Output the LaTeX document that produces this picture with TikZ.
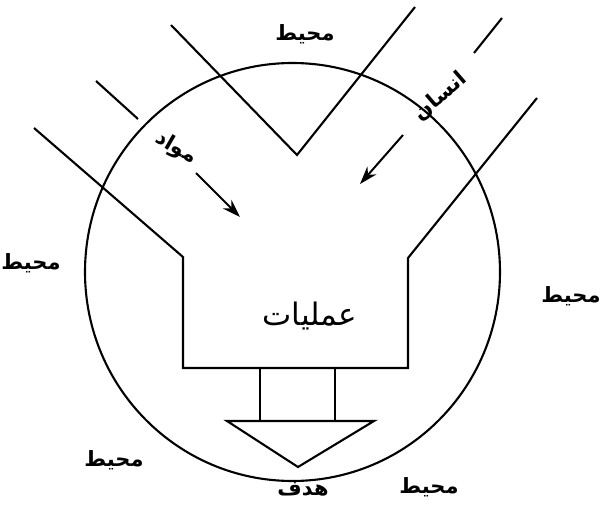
\documentclass[tikz,border=0pt]{standalone}
\usepackage{fontspec}
\usetikzlibrary{arrows.meta}
\TeXXeTstate=1
\newfontfamily\arabicfont[Script=Arabic]{DejaVu Sans}
\begin{document}
\begin{tikzpicture}[x=1pt,y=-1pt, line width=2.1pt, line join=miter,
  lab/.style={font=\arabicfont\bfseries\fontsize{21}{24}\selectfont, inner sep=0pt},
  biglab/.style={font=\arabicfont\fontsize{31}{34}\selectfont, inner sep=0pt},
  arr/.style={-{Stealth[length=18pt,width=12pt]}, line width=2pt}]
\useasboundingbox (0,0) rectangle (603,508);
% environment circle
\draw (292.5,272) ellipse [x radius=207.5, y radius=209];
% funnel inputs
\coordinate (a1) at (171,25);
\coordinate (v) at (297,155);
\coordinate (a2) at (415,7);
\coordinate (s1) at (96,81);
\coordinate (s2) at (138,119);
\coordinate (t1) at (474,53);
\coordinate (t2) at (502,18);
\coordinate (L1) at (34,128);
\coordinate (L2) at (183,257);
\coordinate (L3) at (183,368);
\coordinate (R3) at (408,368);
\coordinate (R2) at (408,258);
\coordinate (R1) at (537,98);
\draw (a1) -- (v) -- (a2);
\draw (s1) -- (s2);
\draw (t1) -- (t2);
\draw (L1) -- (L2) -- (L3) -- (R3) -- (R2) -- (R1);
% stem
\coordinate (st1) at (260,368);
\coordinate (st2) at (260,421);
\coordinate (st3) at (335,368);
\coordinate (st4) at (335,421);
\draw (st1) -- (st2);
\draw (st3) -- (st4);
% output triangle
\coordinate (tr1) at (227,421);
\coordinate (tr2) at (374,421);
\coordinate (tr3) at (298,467);
\draw (tr1) -- (tr2) -- (tr3) -- cycle;
% arrows
\coordinate (m1) at (196,173);
\coordinate (m2) at (240,217);
\coordinate (n1) at (403,135);
\coordinate (n2) at (360,184);
\draw[arr] (m1) -- (m2);
\draw[arr] (n1) -- (n2);
% labels
\node[lab] (envtop) at (305,34) {\beginR محیط\endR};
\node[lab] (envleft) at (31,263) {\beginR محیط\endR};
\node[lab] (envright) at (571,296) {\beginR محیط\endR};
\node[lab] (envbl) at (114,460) {\beginR محیط\endR};
\node[lab] (envbr) at (429,487) {\beginR محیط\endR};
\node[lab] (goal) at (303,489) {\beginR هدف\endR};
\node[lab, rotate=41] (human) at (440,96) {\beginR انسان\endR};
\node[lab, rotate=-30] (material) at (176,148) {\beginR مواد\endR};
\node[biglab] (ops) at (310,316) {\beginR عملیات\endR};
\end{tikzpicture}
\end{document}
